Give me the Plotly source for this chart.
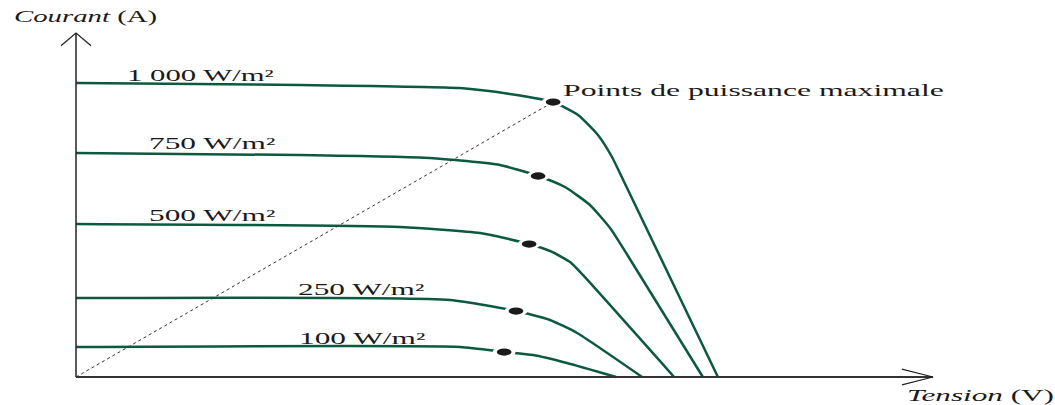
import plotly.graph_objects as go

# I-V characteristics of a PV module at several irradiance levels
# tension in V, courant in A
irradiance_labels = ["1 000 W/m²", "750 W/m²", "500 W/m²", "250 W/m²", "100 W/m²"]

v_1000 = [0.0, 7.0, 12.0, 13.56, 14.91, 15.69, 16.31, 16.75, 17.13, 20.06]
i_1000 = [3.00, 2.98, 2.949, 2.888, 2.806, 2.673, 2.469, 2.245, 1.99, 0.0]

v_750 = [0.0, 7.0, 11.06, 13.25, 14.44, 15.28, 16.06, 16.69, 17.25, 19.59]
i_750 = [2.286, 2.265, 2.235, 2.163, 2.051, 1.939, 1.755, 1.52, 1.235, 0.0]

v_500 = [0.0, 10.13, 12.63, 14.16, 14.88, 15.44, 15.84, 18.69]
i_500 = [1.561, 1.531, 1.469, 1.357, 1.276, 1.173, 1.041, 0.0]

v_250 = [0.0, 11.69, 13.75, 14.81, 15.66, 17.69]
i_250 = [0.806, 0.786, 0.673, 0.582, 0.449, 0.0]

v_100 = [0.0, 12.0, 13.38, 14.28, 15.34, 16.88]
i_100 = [0.306, 0.306, 0.255, 0.224, 0.143, 0.0]

# maximum power points
v_mpp = [14.91, 14.44, 14.16, 13.75, 13.38]
i_mpp = [2.806, 2.051, 1.357, 0.673, 0.255]

curves = [(v_1000, i_1000), (v_750, i_750), (v_500, i_500), (v_250, i_250), (v_100, i_100)]

# label anchor positions (V, A)
label_v = [1.53, 2.22, 2.22, 6.88, 6.91]
label_i = [3.08, 2.38, 1.65, 0.888, 0.398]

GREEN = "#0b5a3e"
FONT = "Liberation Serif"
TXT = "#1a1a1a"

fig = go.Figure()

for v, i in curves:
    fig.add_trace(go.Scatter(x=v, y=i, mode="lines",
                             line=dict(color=GREEN, width=2.5, shape="spline", smoothing=0.5),
                             hoverinfo="skip", showlegend=False))

# dotted line from origin to the 1 000 W/m² maximum power point
fig.add_trace(go.Scatter(x=[0, v_mpp[0]], y=[0, i_mpp[0]], mode="lines",
                         line=dict(color="#333333", width=1, dash="dot"), hoverinfo="skip", showlegend=False))

x_end = 26.78
y_end = 3.51
axis_col = "#222222"
# axes with open arrow heads
fig.add_trace(go.Scatter(x=[0, x_end], y=[0, 0], mode="lines", line=dict(color="#333333", width=2),
                         hoverinfo="skip", showlegend=False))
fig.add_trace(go.Scatter(x=[0, 0], y=[0, y_end], mode="lines", line=dict(color=axis_col, width=1.5),
                         hoverinfo="skip", showlegend=False))
fig.add_trace(go.Scatter(x=[x_end - 0.97, x_end, x_end - 0.97], y=[0.08, 0, -0.08], mode="lines",
                         line=dict(color=axis_col, width=1.2), hoverinfo="skip", showlegend=False))
fig.add_trace(go.Scatter(x=[-0.47, 0, 0.47], y=[y_end - 0.13, y_end, y_end - 0.13], mode="lines",
                         line=dict(color=axis_col, width=1.2), hoverinfo="skip", showlegend=False))

# elliptical markers at the maximum power points, with a white halo
shapes = []
for v, i in zip(v_mpp, i_mpp):
    shapes.append(dict(type="circle", xref="x", yref="y", x0=v - 0.36, x1=v + 0.36, y0=i - 0.055, y1=i + 0.055,
                       fillcolor="white", line=dict(width=0), layer="above"))
    shapes.append(dict(type="circle", xref="x", yref="y", x0=v - 0.23, x1=v + 0.23, y0=i - 0.037, y1=i + 0.037,
                       fillcolor="#1a1a1a", line=dict(width=0), layer="above"))

font = dict(family=FONT, size=16, color=TXT)
annotations = []
for txt, lv, li in zip(irradiance_labels, label_v, label_i):
    annotations.append(dict(x=lv, y=li, xref="x", yref="y", text=txt, showarrow=False, xanchor="left",
                            yanchor="middle", font=font))
annotations.append(dict(x=15.16, y=2.92, xref="x", yref="y", text="Points de puissance maximale", showarrow=False,
                        xanchor="left", yanchor="middle", font=font))
annotations.append(dict(x=-2.0, y=3.67, xref="x", yref="y", text="<i>Courant</i> (A)", showarrow=False,
                        xanchor="left", yanchor="middle", font=font))
annotations.append(dict(x=25.9, y=-0.19, xref="x", yref="y", text="<i>Tension</i> (V)", showarrow=False,
                        xanchor="left", yanchor="middle", font=font))

fig.update_layout(
    width=1055, height=405,
    margin=dict(l=0, r=0, t=0, b=0),
    paper_bgcolor="white", plot_bgcolor="white",
    xaxis=dict(range=[-2.375, 30.594], visible=False, fixedrange=True),
    yaxis=dict(range=[-0.2857, 3.8469], visible=False, fixedrange=True),
    shapes=shapes, annotations=annotations,
)

# wide, horizontally stretched lettering for the labels (one factor per annotation)
stretch_js = """
var gd = document.getElementById('{plot_id}');
var k = [1.92, 1.96, 1.96, 1.96, 1.96, 1.98, 1.8, 1.95];
gd.querySelectorAll('.annotation-text').forEach(function (t, n) {
  t.style.transformBox = 'fill-box';
  t.style.transformOrigin = '0% 50%';
  t.style.transform = 'scaleX(' + (k[n] || 1.95) + ')';
});
"""

fig.write_html("out.html", post_script=stretch_js)
